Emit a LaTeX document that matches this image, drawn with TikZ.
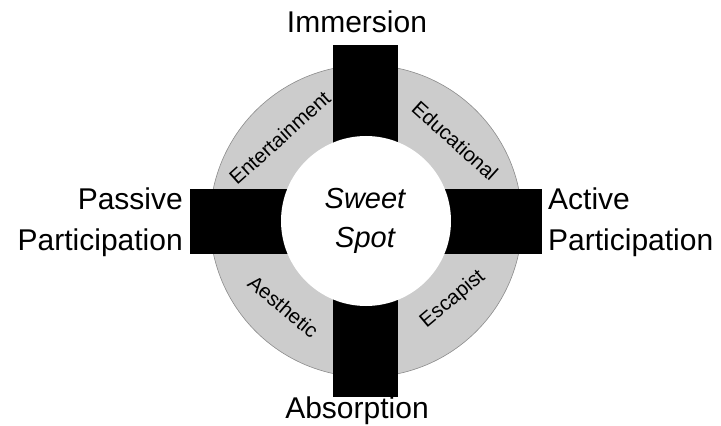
\documentclass[tikz,border=0pt]{standalone}
\usepackage{fontspec}
\setmainfont{Liberation Sans}
\begin{document}
\begin{tikzpicture}
% Experience realms ring with its two axes
\def\ringout{156pt}
\def\ringin{85pt}
\providecommand{\realmFillColor}{black!20}
\providecommand{\realmLineColor}{black!45}
\providecommand{\realmLineWidth}{0.6pt}
\begin{scope}[x=1pt, y=1pt]
  \useasboundingbox (-366,-205) rectangle (355,221);
  % Grey ring
  \path[fill=\realmFillColor, draw=\realmLineColor, line width=\realmLineWidth] (0,0) circle (\ringout);
  % Black cross
  \begin{scope}[fill=black]
    \fill (-32.5,-176) rectangle (32.5,176);
    \fill (-176,-32.5) rectangle (176,32.5);
  \end{scope}
  % White centre
  \fill[white] (0,0) circle (\ringin);
  % Axis labels
  \begin{scope}[font=\fontsize{30}{41}\selectfont, inner sep=0pt]
    \node[anchor=base] (immersion) at (-9,188) {Immersion};
    \node[anchor=base] (absorption) at (-9,-197) {Absorption};
    \node[anchor=base east, align=right] (passive) at (-183,-29.5) {Passive\\Participation};
    \node[anchor=base west, align=left] (active) at (182,-29.5) {Active\\Participation};
  \end{scope}
  \node[font=\fontsize{29}{39}\selectfont\itshape, anchor=base, align=center, inner sep=0pt] (sweet) at (-1,-26) {Sweet\\Spot};
  % Realm labels
  \begin{scope}[font=\fontsize{20.5}{24}\selectfont, inner sep=0pt]
    \node[rotate=42] (entertain) at (136:120) {Entertainment};
    \node[rotate=-42] (educate) at (42:120) {Educational};
    \node[rotate=-40] (aesthetic) at (226:119) {Aesthetic};
    \node[rotate=40] (escapist) at (-42:117) {Escapist};
  \end{scope}
\end{scope}
\end{tikzpicture}
\end{document}
